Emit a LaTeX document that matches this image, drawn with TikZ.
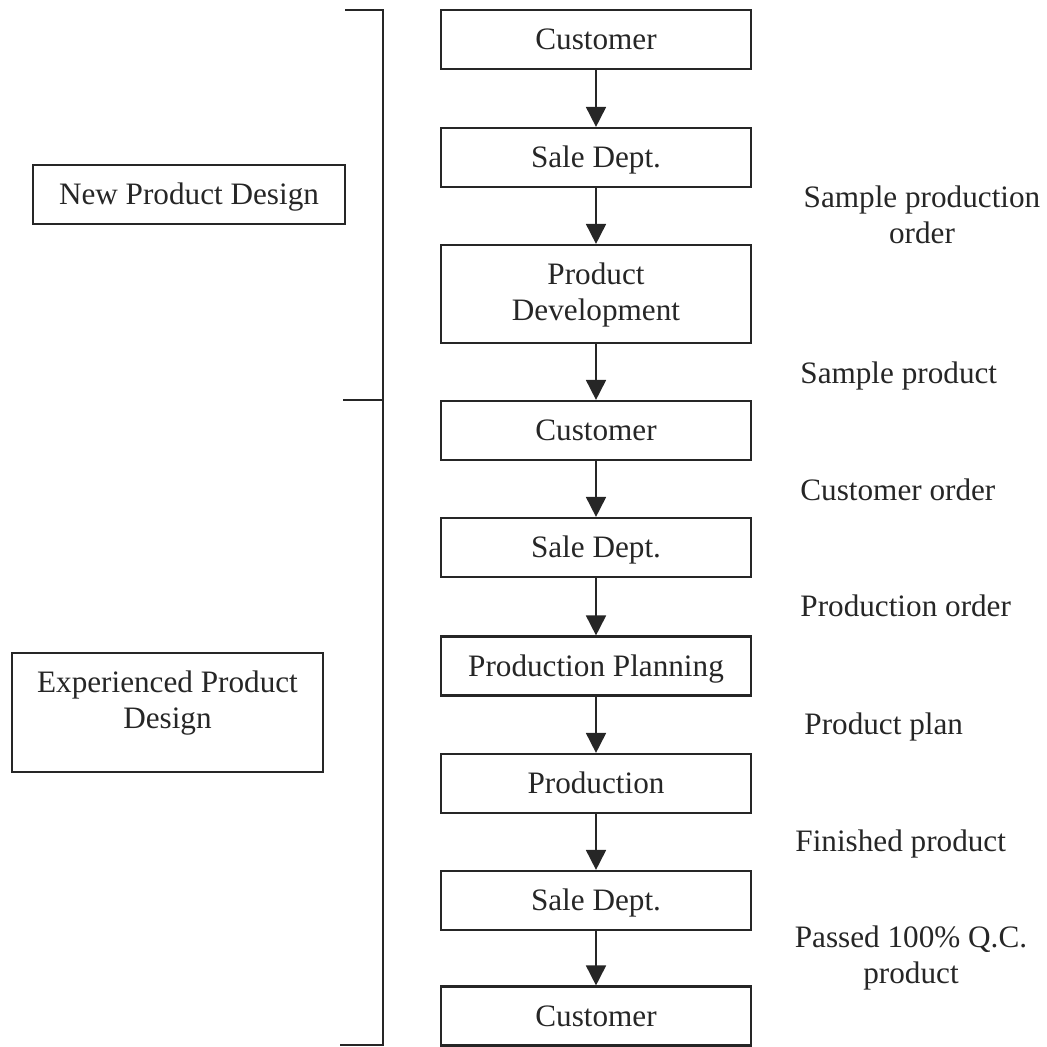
\documentclass[tikz,border=0pt]{standalone}
\usepackage{fontspec}
\setmainfont{Liberation Serif}
\usetikzlibrary{arrows.meta}
\definecolor{ink}{HTML}{262626}
\newcommand{\lblfont}{\fontsize{15.6pt}{18pt}\selectfont}
\begin{document}
\begin{tikzpicture}[x=0.5pt,y=-0.5pt,
  flowbox/.style={draw=ink, line width=1.1pt, minimum width=155pt,
    minimum height=29.5pt, inner sep=0pt, font=\lblfont, text=ink,
    align=center, text height=10.3pt, text depth=0pt},
  tallbox/.style={flowbox, minimum height=49pt, text height=26pt},
  sidebox/.style={draw=ink, line width=1.1pt, inner sep=0pt, font=\lblfont,
    text=ink, align=center, text height=10.3pt, text depth=0pt},
  flowlbl/.style={inner sep=0pt, font=\lblfont, text=ink, align=center},
  flow/.style={draw=ink, line width=0.9pt,
    -{Triangle[length=10pt, width=10pt]}},
  bracket/.style={draw=ink, line width=1pt}]

% page frame
\useasboundingbox (0,0) rectangle (1047,1046);

% main process column
\node[flowbox] (c1) at (596,39.5)  {Customer};
\node[flowbox] (s1) at (596,157.5) {Sale Dept.};
\node[tallbox] (pd) at (596,294)   {Product\\Development};
\node[flowbox] (c2) at (596,430.5) {Customer};
\node[flowbox] (s2) at (596,547.5) {Sale Dept.};
\node[flowbox] (pp) at (596,666)   {Production Planning};
\node[flowbox] (pr) at (596,783.5) {Production};
\node[flowbox] (s3) at (596,900.5) {Sale Dept.};
\node[flowbox] (c3) at (596,1016)  {Customer};

% flow arrows
\draw[flow] (c1) -- (s1);
\draw[flow] (s1) -- (pd);
\draw[flow] (pd) -- (c2);
\draw[flow] (c2) -- (s2);
\draw[flow] (s2) -- (pp);
\draw[flow] (pp) -- (pr);
\draw[flow] (pr) -- (s3);
\draw[flow] (s3) -- (c3);

% items passed along each step (base = last line)
\node[flowlbl, anchor=base] (l1) at (922,243) {Sample production\\order};
\node[flowlbl, anchor=base west] (l2) at (800,383) {Sample product};
\node[flowlbl, anchor=base west] (l3) at (800,500) {Customer order};
\node[flowlbl, anchor=base west] (l4) at (800,616) {Production order};
\node[flowlbl, anchor=base west] (l5) at (804,734) {Product plan};
\node[flowlbl, anchor=base west] (l6) at (795,851) {Finished product};
\node[flowlbl, anchor=base] (l7) at (911,983) {Passed 100\% Q.C.\\product};

% phase bracket
\coordinate (bt0) at (345,10);
\coordinate (bt1) at (383,10);
\coordinate (bm0) at (343,400);
\coordinate (bm1) at (383,400);
\coordinate (bb1) at (383,1045);
\coordinate (bb0) at (340,1045);
\draw[bracket] (bt0) -- (bt1) -- (bb1) -- (bb0);
\draw[bracket] (bm0) -- (bm1);

% phase names
\node[sidebox, minimum width=156pt, minimum height=29.5pt] (npd)
  at (189,194.5) {New Product Design};
\node[sidebox, minimum width=155.5pt, minimum height=59.5pt,
  text height=15.5pt] (epd)
  at (167.5,712.5) {Experienced Product\\Design};
\end{tikzpicture}
\end{document}
